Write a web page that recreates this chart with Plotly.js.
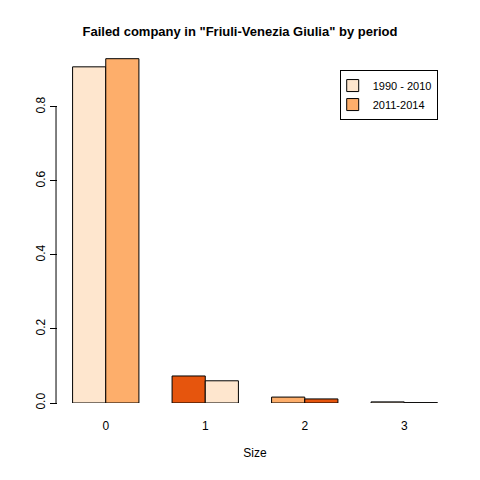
<!DOCTYPE html>
<html>
<head>
<script src="https://cdn.plot.ly/plotly-3.0.1.min.js"></script>
<style>body{margin:0}</style>
</head>
<body>
<div id="chart" style="width:480px;height:480px"></div>
<script>
// proportion of failed companies by size class, per period
const sizes = ['0', '1', '2', '3'];
const period1 = [0.908, 0.073, 0.016, 0.003];
const period2 = [0.930, 0.060, 0.011, 0.001];
const seriesNames = ['1990 - 2010', '2011-2014'];
// R recycles the 3-colour palette over the 8 bars
const palette = ['#FEE6CE', '#FDAE6B', '#E6550D'];
const colors1 = [0, 2, 1, 0].map(i => palette[i]);
const colors2 = [1, 0, 2, 1].map(i => palette[i]);

const line = { color: '#000', width: 1 };
const traces = [
    { x: sizes, y: period1, name: seriesNames[0], type: 'bar', marker: { color: colors1, line: line } },
    { x: sizes, y: period2, name: seriesNames[1], type: 'bar', marker: { color: colors2, line: line } }
];

const layout = {
    width: 480, height: 480,
    margin: { l: 58, r: 28, t: 45, b: 77 },
    paper_bgcolor: '#fff', plot_bgcolor: '#fff',
    font: { family: 'Liberation Sans, Arial', size: 12, color: '#000' },
    title: { text: '<b>Failed company in "Friuli-Venezia Giulia" by period</b>', x: 0.5, xanchor: 'center', y: 0.945, font: { size: 13 } },
    barmode: 'group', bargap: 1 / 3, bargroupgap: 0,
    xaxis: {
        type: 'category', range: [-0.48, 3.48], showgrid: false, zeroline: false,
        showline: false, ticks: '', ticklabelstandoff: 14,
        title: { text: 'Size', standoff: 16, font: { size: 12 } }
    },
    yaxis: {
        range: [0, 0.967], showgrid: false, zeroline: false, showline: false,
        ticks: 'outside', ticklen: 7, tickcolor: '#000', tickvals: [0, 0.2, 0.4, 0.6, 0.8],
        ticktext: ['0.0', '0.2', '0.4', '0.6', '0.8'], tickangle: -90
    },
    shapes: [{ type: 'line', xref: 'paper', yref: 'y', x0: -0.005, x1: -0.005, y0: 0, y1: 0.8, line: { color: '#000', width: 1 } }],
    legend: {
        x: 0.715, y: 0.93, xanchor: 'left', yanchor: 'top', bgcolor: '#fff',
        bordercolor: '#000', borderwidth: 1, font: { size: 11 }, tracegroupgap: 0,
        itemwidth: 30, indentation: -8
    }
};

Plotly.newPlot('chart', traces, layout, { displayModeBar: false });
</script>
</body>
</html>
